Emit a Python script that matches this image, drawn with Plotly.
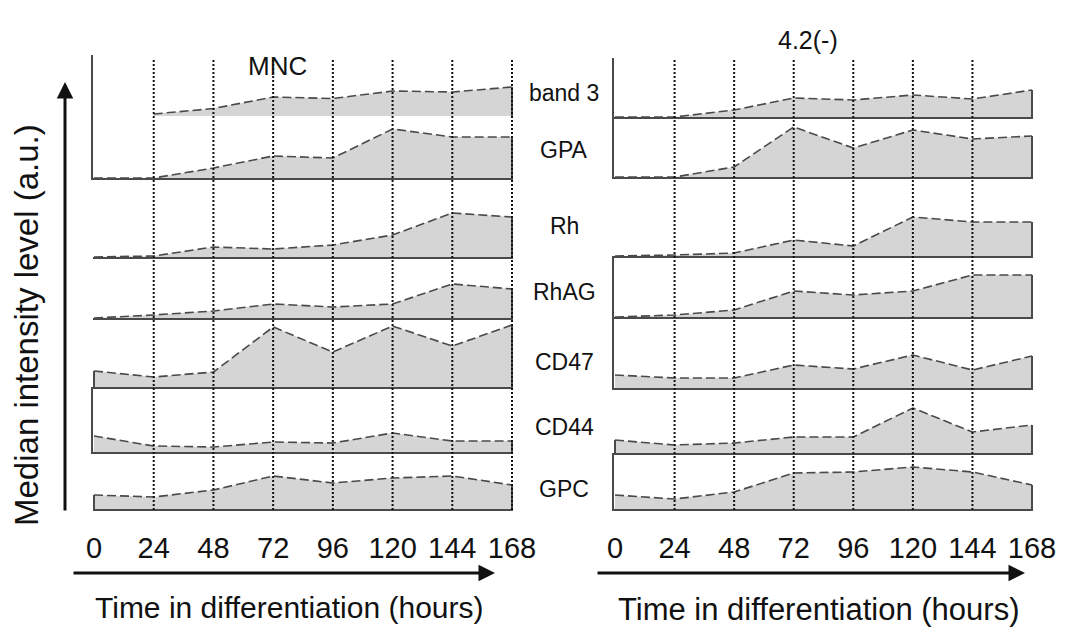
import plotly.graph_objects as go

# ---------------- data ----------------
times = [0, 24, 48, 72, 96, 120, 144, 168]
tick_labels = ["0", "24", "48", "72", "96", "120", "144", "168"]
proteins = ["band 3", "GPA", "Rh", "RhAG", "CD47", "CD44", "GPC"]
panel_titles = ["MNC", "4.2(-)"]

# MNC (median intensity, a.u.)
mnc_band3 = [None, 2, 7.5, 19, 17.5, 25, 24, 29]
mnc_gpa = [0, 0, 10, 22, 20, 49, 41, 41]
mnc_rh = [0, 1, 10, 8, 12, 22, 44, 40]
mnc_rhag = [0, 3, 7, 14, 11, 14, 34, 29]
mnc_cd47 = [16, 10, 15, 60, 35, 61, 41, 62]
mnc_cd44 = [16, 6, 5, 10, 9, 19, 11, 11]
mnc_gpc = [14, 12, 19, 33, 26, 31, 33, 24]

# 4.2(-) (median intensity, a.u.)
p42_band3 = [0, 0, 7, 19, 17, 22, 18, 27]
p42_gpa = [0, 0, 10, 50, 29, 47, 38, 41]
p42_rh = [0, 1, 3, 16, 10, 39, 34, 34]
p42_rhag = [0, 2, 7, 26, 22, 26, 42, 42]
p42_cd47 = [13, 10, 10, 23, 19, 33, 18, 32]
p42_cd44 = [13, 8, 10, 16, 16, 45, 21, 28]
p42_gpc = [14, 10, 17, 36, 37, 42, 37, 24]

series = [
    [mnc_band3, mnc_gpa, mnc_rh, mnc_rhag, mnc_cd47, mnc_cd44, mnc_gpc],
    [p42_band3, p42_gpa, p42_rh, p42_rhag, p42_cd47, p42_cd44, p42_gpc],
]

# ---------------- layout geometry (pixels) ----------------
W, H = 1072, 628
def px(x):
    return x / W
def py(y):
    return 1 - y / H

panel_x = [(94, 512), (615, 1032)]
panel_top = [55, 58]
row_base = [
    [116, 178, 257, 318, 387, 452, 509],
    [117, 177, 256, 317, 388, 453, 509],
]
full_left = [
    [True, True, False, False, False, True, False],
    [True, True, False, True, True, False, True],
]
show_base = [
    [False, True, True, True, True, True, True],
    [True, True, True, True, True, True, True],
]
dotted_times = [times[1:], times[1:-1]]

FILL = "#d5d5d5"
LINE = "#4a4a4a"
FONT = "Liberation Sans, Arial, sans-serif"
PAD = 0.6  # hours of padding so edge lines are not clipped

fig = go.Figure()
layout = dict(
    width=W, height=H, autosize=False,
    margin=dict(l=0, r=0, t=0, b=0, pad=0, autoexpand=False),
    paper_bgcolor="white", plot_bgcolor="rgba(0,0,0,0)",
    showlegend=False, font=dict(family=FONT, color="#111"),
)
shapes = []
annotations = []

for p in range(2):
    x0, x1 = panel_x[p]
    scale = (x1 - x0) / 168.0
    dom_x = [px(x0 - PAD * scale), px(x1 + PAD * scale)]
    for r in range(7):
        k = p * 7 + r + 1
        xa = "x" if k == 1 else f"x{k}"
        ya = "y" if k == 1 else f"y{k}"
        top = panel_top[p] if r == 0 else row_base[p][r - 1]
        base = row_base[p][r]
        bottom_row = (r == 6)
        xaxis = dict(
            domain=dom_x, range=[-PAD, 168 + PAD], anchor=ya,
            showgrid=False, zeroline=False, automargin=False,
            showline=show_base[p][r], linecolor=LINE, linewidth=2,
            fixedrange=True,
        )
        if bottom_row:
            xaxis.update(
                tickmode="array", tickvals=times, ticktext=tick_labels,
                ticks="outside", ticklen=12, tickcolor="rgba(0,0,0,0)",
                tickfont=dict(size=29, family=FONT, color="#111"),
                showticklabels=True,
            )
        else:
            xaxis.update(showticklabels=False, ticks="")
        yaxis = dict(
            domain=[py(base), py(top)], range=[0, base - top], anchor=xa,
            showgrid=False, zeroline=False, showticklabels=False, ticks="",
            showline=full_left[p][r], linecolor=LINE, linewidth=2,
            fixedrange=True, automargin=False,
        )
        layout["xaxis" if k == 1 else f"xaxis{k}"] = xaxis
        layout["yaxis" if k == 1 else f"yaxis{k}"] = yaxis

        vals = series[p][r]
        xs = [t for t, v in zip(times, vals) if v is not None]
        ys = [v for v in vals if v is not None]
        fig.add_trace(go.Scatter(
            x=xs, y=ys, xaxis=xa, yaxis=ya, mode="lines", fill="tozeroy",
            fillcolor=FILL, line=dict(width=0), hoverinfo="skip"))
        fig.add_trace(go.Scatter(
            x=xs, y=ys, xaxis=xa, yaxis=ya, mode="lines",
            line=dict(color=LINE, width=1.6, dash="9px,4px"), hoverinfo="skip"))
        # right edge of the filled profile
        fig.add_trace(go.Scatter(
            x=[xs[-1], xs[-1]], y=[ys[-1], 0], xaxis=xa, yaxis=ya, mode="lines",
            line=dict(color=LINE, width=2), hoverinfo="skip"))
        # left edge of the filled profile
        if not full_left[p][r] and xs[0] == 0 and ys[0] > 0:
            fig.add_trace(go.Scatter(
                x=[0, 0], y=[ys[0], 0], xaxis=xa, yaxis=ya, mode="lines",
                line=dict(color=LINE, width=2), hoverinfo="skip"))

    # dotted time grid lines
    xb = "x" + str(p * 7 + 7)
    for t in dotted_times[p]:
        shapes.append(dict(
            type="line", xref=xb, yref="paper", x0=t, x1=t,
            y0=py(510), y1=py(58), layer="above",
            line=dict(color="#111", width=2, dash="2px,2px")))

def label(text, x, y, size, **kw):
    d = dict(text=text, xref="paper", yref="paper", x=px(x), y=py(y),
             showarrow=False, xanchor="center", yanchor="middle",
             font=dict(size=size, family=FONT, color="#111"))
    d.update(kw)
    return d

# row labels
label_y = [93, 150, 226, 292, 362, 427, 489]
for name, yy in zip(proteins, label_y):
    annotations.append(label(name, 564, yy, 23))

# panel titles
annotations.append(label(panel_titles[0], 277, 66, 26))
annotations.append(label(panel_titles[1], 808, 40, 25))

# x titles
annotations.append(label("Time in differentiation (hours)", 289, 607, 30))
annotations.append(label("Time in differentiation (hours)", 818, 609, 31))
# y title
annotations.append(label("Median intensity level (a.u.)", 26, 325, 33, textangle=-90))

# arrows
arrow_style = dict(text="", showarrow=True, arrowhead=2, arrowsize=1.1,
                   arrowwidth=3, arrowcolor="#111", axref="pixel", ayref="pixel",
                   xref="paper", yref="paper", standoff=0)
annotations.append(dict(arrow_style, x=px(495), y=py(573), ax=72 - 495, ay=0))
annotations.append(dict(arrow_style, x=px(1025), y=py(573), ax=596 - 1025, ay=0))
annotations.append(dict(arrow_style, x=px(65), y=py(82), ax=0, ay=512 - 82))

layout["shapes"] = shapes
layout["annotations"] = annotations
fig.update_layout(**layout)
fig.write_html(
    "out.html",
    config={"displayModeBar": False, "responsive": False},
    post_script="document.body.style.margin='0px';"
                "document.body.style.overflow='hidden';",
)
